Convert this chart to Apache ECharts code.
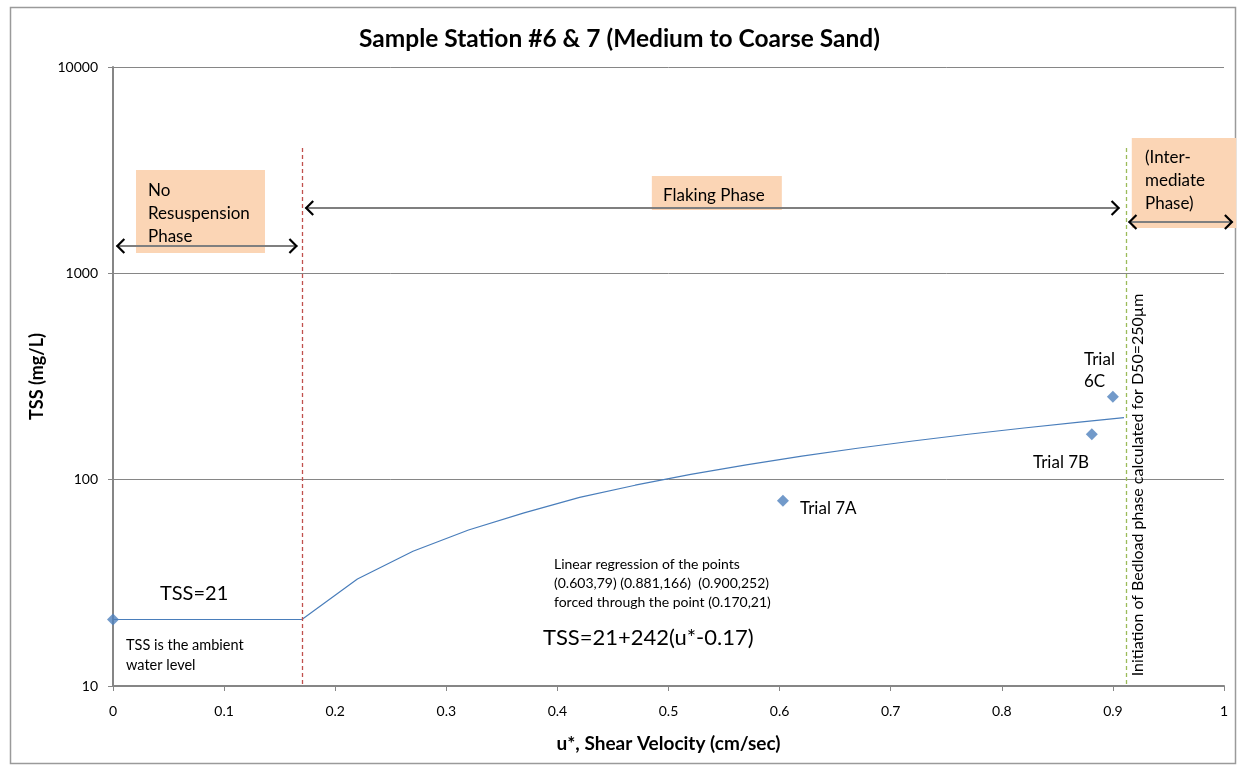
<!DOCTYPE html>
<html lang="en">
<head>
    <meta charset="UTF-8">
    <script src="https://cdn.jsdelivr.net/npm/echarts@6/dist/echarts.min.js"></script>
    <title>Sample Station #6 & 7</title>
    <style>
        body { margin: 0; background: #fff; }
    </style>
</head>
<body>
<div id="main" style="width: 1239px;height:767px;"></div>
<script type="text/javascript">
    // regression line TSS=21+242(u*-0.17)
    var lineX = [0, 0.17, 0.22, 0.27, 0.32, 0.37, 0.42, 0.47, 0.52, 0.57, 0.62, 0.67, 0.72, 0.77, 0.82, 0.87, 0.91];
    var lineY = [21, 21, 33, 45, 57, 69, 82, 94, 106, 118, 130, 142, 154, 166, 178, 190, 200];
    // measured points
    var pointX = [0, 0.603, 0.881, 0.900];
    var pointY = [21, 79, 166, 252];
    var xTicks = ['0', '0.1', '0.2', '0.3', '0.4', '0.5', '0.6', '0.7', '0.8', '0.9', '1'];
    var yTicks = {10: '10', 100: '100', 1000: '1000', 10000: '10000'};

    // phase boxes [x0, y0, x1, y1] in data units
    var phaseBoxes = [
        [0.0207, 3170, 0.1368, 1256],
        [0.485, 2966, 0.602, 2029],
        [0.917, 4530, 1.011, 1660]
    ];
    // double arrows [x0, x1, y]
    var phaseArrows = [
        [0.003, 0.166, 1358],
        [0.173, 0.906, 2075],
        [0.914, 1.008, 1775]
    ];

    var lineData = [];
    for (var i = 0; i < lineX.length; i++) {
        lineData.push([lineX[i], lineY[i]]);
    }
    var pointData = [];
    for (var j = 0; j < pointX.length; j++) {
        pointData.push([pointX[j], pointY[j]]);
    }

    var font = 'Lato, "Open Sans", sans-serif';
    var peach = '#fbd5b5';

    var myChart = echarts.init(document.getElementById('main'));

    function txt(x, y, s, size, lh) {
        return {
            type: 'text',
            left: x,
            top: y,
            z: 100,
            style: {
                text: s,
                font: size + 'px ' + font,
                fill: '#000',
                lineHeight: lh
            }
        };
    }

    var option = {
        backgroundColor: '#fff',
        animation: false,
        title: {
            text: 'Sample Station #6 & 7 (Medium to Coarse Sand)',
            left: 'center',
            top: 22,
            textStyle: {fontFamily: font, fontSize: 24.5, fontWeight: 'bold', color: '#000'}
        },
        grid: {left: 113, right: 15, top: 67, bottom: 81},
        xAxis: {
            type: 'value',
            min: 0,
            max: 1,
            interval: 0.1,
            name: 'u*, Shear Velocity (cm/sec)',
            nameLocation: 'middle',
            nameGap: 48,
            nameTextStyle: {fontFamily: font, fontSize: 19, fontWeight: 'bold', color: '#000'},
            axisLine: {lineStyle: {color: '#868686', width: 2}},
            axisTick: {show: true, length: 5, lineStyle: {color: '#868686'}},
            axisLabel: {
                margin: 18,
                fontFamily: font,
                fontSize: 14,
                color: '#000',
                formatter: function (v) {
                    return xTicks[Math.round(v * 10)];
                }
            },
            splitLine: {show: false}
        },
        yAxis: {
            type: 'log',
            logBase: 10,
            min: 10,
            max: 10000,
            name: 'TSS (mg/L)',
            nameLocation: 'middle',
            nameGap: 63,
            nameTextStyle: {fontFamily: font, fontSize: 18, fontWeight: 'bold', color: '#000'},
            axisLine: {show: true, lineStyle: {color: '#868686', width: 2}},
            axisTick: {show: true, length: 5, lineStyle: {color: '#868686'}},
            axisLabel: {
                margin: 15,
                color: '#000',
                formatter: function (v) {
                    return '{t|' + (yTicks[Math.round(v)] || '') + '}';
                },
                rich: {t: {fontFamily: font, fontSize: 14, color: '#000'}}
            },
            splitLine: {show: true, lineStyle: {color: '#868686', width: 1}},
            minorTick: {show: false}
        },
        series: [
            {
                name: 'regression',
                type: 'line',
                data: lineData,
                showSymbol: false,
                symbol: 'none',
                lineStyle: {color: '#4a7ebb', width: 1.2},
                z: 3
            },
            {
                name: 'points',
                type: 'scatter',
                data: pointData,
                symbol: 'diamond',
                symbolSize: 12,
                itemStyle: {color: '#4f81bd'},
                z: 4
            },
            {
                name: 'limits',
                type: 'line',
                data: [],
                z: 2,
                markLine: {
                    silent: true,
                    animation: false,
                    label: {show: false},
                    symbol: ['none', 'none'],
                    data: [
                        [{coord: [0.17, 4055], lineStyle: {color: '#c0504d', type: [4, 3], width: 1.3}}, {coord: [0.17, 10]}],
                        [{coord: [0.912, 4055], lineStyle: {color: '#9bbb59', type: [4, 3], width: 1.3}}, {coord: [0.912, 10]}]
                    ]
                }
            }
        ]
    };

    myChart.setOption(option);

    // boxes, arrows and notes placed after the grid exists
    function px(x, y) {
        return myChart.convertToPixel({gridIndex: 0}, [x, y]);
    }

    var graphics = [
        {
            type: 'rect',
            left: 8,
            top: 5,
            z: 0,
            silent: true,
            shape: {width: 1225, height: 756},
            style: {fill: 'none', stroke: '#9a9a9a', lineWidth: 1.5}
        }
    ];

    phaseBoxes.forEach(function (b) {
        var a = px(b[0], b[1]);
        var c = px(b[2], b[3]);
        graphics.push({
            type: 'rect',
            z: 1,
            silent: true,
            shape: {x: a[0], y: a[1], width: c[0] - a[0], height: c[1] - a[1]},
            style: {fill: peach}
        });
    });

    phaseArrows.forEach(function (r) {
        var a = px(r[0], r[2]);
        var c = px(r[1], r[2]);
        graphics.push({
            type: 'line',
            z: 5,
            silent: true,
            shape: {x1: a[0], y1: a[1], x2: c[0], y2: c[1]},
            style: {stroke: '#7f7f7f', lineWidth: 2}
        });
        graphics.push({
            type: 'polyline',
            z: 6,
            silent: true,
            shape: {points: [[a[0] + 8, a[1] - 7], [a[0] + 1, a[1]], [a[0] + 8, a[1] + 7]]},
            style: {stroke: '#000', lineWidth: 2.2, fill: 'none'}
        });
        graphics.push({
            type: 'polyline',
            z: 6,
            silent: true,
            shape: {points: [[c[0] - 8, c[1] - 7], [c[0] - 1, c[1]], [c[0] - 8, c[1] + 7]]},
            style: {stroke: '#000', lineWidth: 2.2, fill: 'none'}
        });
    });

    graphics.push(
        txt(148, 179, 'No\nResuspension\nPhase', 17, 23),
        txt(663, 184, 'Flaking Phase', 17, 23),
        txt(1145, 146, '(Inter-\nmediate\nPhase)', 17, 23),
        txt(1084, 349, 'Trial\n6C', 17, 22),
        txt(1033, 452, 'Trial 7B', 17, 22),
        txt(800, 498, 'Trial 7A', 17, 22),
        txt(160, 578, 'TSS=21', 20, 31),
        txt(126, 635, 'TSS is the ambient\nwater level', 14.5, 20),
        txt(554, 555, 'Linear regression of the points\n(0.603,79) (0.881,166)  (0.900,252)\nforced through the point (0.170,21)', 14, 19),
        txt(543, 621, 'TSS=21+242(u*-0.17)', 22, 34),
        {
            type: 'text',
            x: 1138,
            y: 485,
            rotation: Math.PI / 2,
            z: 100,
            style: {
                text: 'Initiation of Bedload phase calculated for D50=250µm',
                font: '16px ' + font,
                fill: '#000',
                align: 'center',
                verticalAlign: 'middle'
            }
        }
    );

    myChart.setOption({graphic: graphics});
</script>
</body>
</html>
